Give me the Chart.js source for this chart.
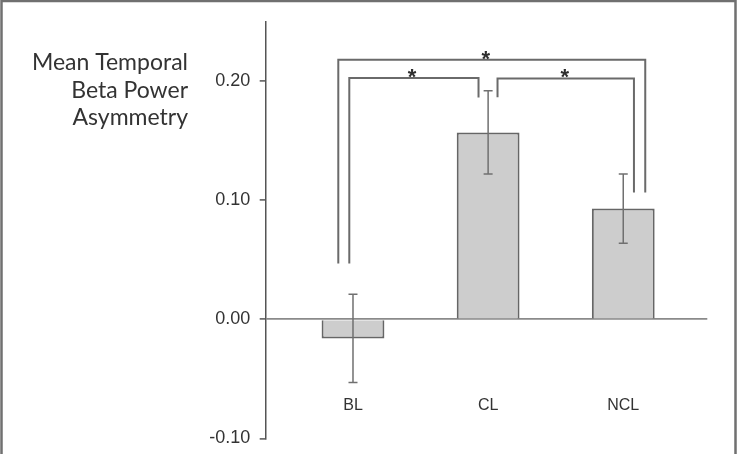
<!DOCTYPE html>
<html>
<head>
<meta charset="utf-8">
<script src="https://cdn.jsdelivr.net/npm/chart.js@4.4.0/dist/chart.umd.min.js"></script>
<style>
  html, body { margin: 0; padding: 0; background: #fff; overflow: hidden; }
  canvas { display: block; }
</style>
</head>
<body>
<canvas id="myChart" width="737" height="454"></canvas>
<script>
// data
const categories = ['BL', 'CL', 'NCL'];
const means = [-0.016, 0.157, 0.093];
const errLow = [-0.053, 0.122, 0.064];
const errHigh = [0.021, 0.192, 0.122];
const yTicks = [-0.10, 0.00, 0.10, 0.20];
const titleLines = ['Mean Temporal', 'Beta Power', 'Asymmetry'];
// significance comparisons (index pairs) and their marks
const sigPairs = [[0, 1], [1, 2], [0, 2]];
const sigMarks = ['*', '*', '*'];

// error bars drawn on top of the bars
const errorBars = {
  id: 'errorBars',
  afterDatasetsDraw(chart) {
    const ctx = chart.ctx, x = chart.scales.x, y = chart.scales.y;
    ctx.save();
    ctx.strokeStyle = '#707070';
    ctx.lineWidth = 1.5;
    means.forEach((m, i) => {
      const px = x.getPixelForValue(i);
      const top = y.getPixelForValue(errHigh[i]);
      const bot = y.getPixelForValue(errLow[i]);
      ctx.beginPath();
      ctx.moveTo(px, top); ctx.lineTo(px, bot);
      ctx.moveTo(px - 4.5, top); ctx.lineTo(px + 4.5, top);
      ctx.moveTo(px - 4.5, bot); ctx.lineTo(px + 4.5, bot);
      ctx.stroke();
    });
    ctx.restore();
  }
};

// brackets with stars
const sigBrackets = {
  id: 'sigBrackets',
  afterDatasetsDraw(chart, args, opts) {
    const ctx = chart.ctx, x = chart.scales.x, y = chart.scales.y;
    ctx.save();
    ctx.strokeStyle = '#6a6a6a';
    ctx.lineWidth = 2;
    ctx.fillStyle = '#2e2e2e';
    ctx.font = 'bold 22px "Liberation Sans", Arial, sans-serif';
    ctx.textAlign = 'center';
    ctx.textBaseline = 'alphabetic';
    sigPairs.forEach((p, k) => {
      const g = opts.geom[k];
      const x1 = x.getPixelForValue(p[0]) + g.dx[0];
      const x2 = x.getPixelForValue(p[1]) + g.dx[1];
      const top = y.getPixelForValue(g.top);
      ctx.beginPath();
      ctx.moveTo(x1, y.getPixelForValue(g.legs[0]));
      ctx.lineTo(x1, top);
      ctx.lineTo(x2, top);
      ctx.lineTo(x2, y.getPixelForValue(g.legs[1]));
      ctx.stroke();
      ctx.fillText(sigMarks[k], (x1 + x2) / 2 - g.sx, top + 6);
    });
    ctx.restore();
  }
};

// horizontal y label on the left and the outer frame
const sideText = {
  id: 'sideText',
  afterDraw(chart) {
    const ctx = chart.ctx;
    ctx.save();
    ctx.fillStyle = '#333';
    ctx.font = '23px Lato, "Open Sans", sans-serif';
    ctx.textAlign = 'right';
    ctx.textBaseline = 'alphabetic';
    const base = [70, 98.3, 125];
    titleLines.forEach((t, i) => ctx.fillText(t, 188, base[i]));

    ctx.strokeStyle = '#707070';
    ctx.lineWidth = 2.5;
    ctx.beginPath();
    ctx.moveTo(1.5, 454); ctx.lineTo(1.5, 1); ctx.lineTo(735.5, 1); ctx.lineTo(735.5, 454);
    ctx.stroke();
    ctx.restore();
  }
};

const ctx = document.getElementById('myChart').getContext('2d');
const myChart = new Chart(ctx, {
  type: 'bar',
  data: {
    datasets: [{
      data: means.map((v, i) => ({ x: i, y: v })),
      backgroundColor: '#cdcdcd',
      borderColor: '#666',
      borderWidth: 2,
      barPercentage: 0.465,
      categoryPercentage: 1
    }]
  },
  plugins: [errorBars, sigBrackets, sideText],
  options: {
    responsive: false,
    animation: false,
    layout: { padding: { left: 0, right: 29.7, top: 21.7, bottom: 15.6 } },
    plugins: {
      legend: { display: false },
      tooltip: { enabled: false },
      sigBrackets: {
        geom: [
          { dx: [-3.7, -9.6], top: 0.2028, legs: [0.047, 0.1863], sx: 2 },
          { dx: [9.4, 10.7], top: 0.2023, legs: [0.1866, 0.1065], sx: 1 },
          { dx: [-14.7, 22], top: 0.218, legs: [0.047, 0.1065], sx: 6 }
        ]
      }
    },
    scales: {
      x: {
        type: 'linear',
        position: { y: 0 },
        offset: false,
        min: -0.646,
        max: 2.622,
        afterBuildTicks: (scale) => { scale.ticks = categories.map((c, i) => ({ value: i })); },
        afterFit: (scale) => {
          scale.paddingTop = 0; scale.paddingBottom = 0;
          scale.paddingLeft = 0; scale.paddingRight = 0;
        },
        grid: { display: false, drawTicks: false, offset: false },
        border: { display: false },
        ticks: {
          padding: 77,
          color: '#333',
          font: { family: '"Liberation Sans", Arial, sans-serif', size: 16 },
          callback: (v) => categories[v]
        }
      },
      y: {
        min: -0.10,
        max: 0.25,
        afterBuildTicks: (scale) => { scale.ticks = yTicks.map(v => ({ value: v })); },
        afterFit: (scale) => {
          scale.width = 265.7;
          scale.paddingTop = 0; scale.paddingBottom = 0;
        },
        border: { display: true, color: '#555', width: 1.5 },
        grid: {
          color: (c) => (c.tick && c.tick.value === 0 ? '#8a8a8a' : 'rgba(0,0,0,0)'),
          lineWidth: 1.8,
          tickLength: 6,
          tickColor: '#555',
          tickWidth: 1.5
        },
        ticks: {
          padding: 9.5,
          color: '#333',
          font: { family: '"Liberation Sans", Arial, sans-serif', size: 18 },
          callback: (v) => v.toFixed(2)
        }
      }
    }
  }
});
</script>
</body>
</html>
